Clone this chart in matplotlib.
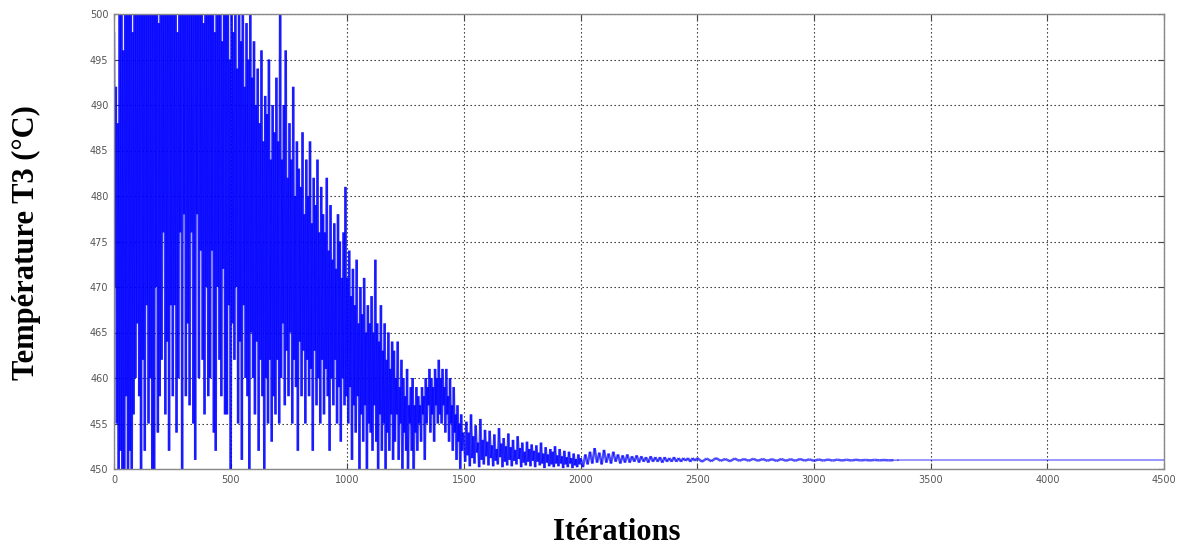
import numpy as np
import matplotlib
matplotlib.use("Agg")
import matplotlib.pyplot as plt
from matplotlib.collections import LineCollection

# --- data -----------------------------------------------------------------
# phase 1: one reading every 4 iterations, 0 .. 1496
p1_start, p1_step = 0, 4
temp_p1 = [
    498, 470, 492, 455, 488, 447, 500, 452, 505, 449, 496, 445, 503, 458, 505, 446, 500, 452, 505, 447, 498, 456, 505, 460, 502,
    466, 505, 458, 500, 448, 505, 462, 503, 452, 505, 468, 501, 455, 505, 460, 500, 450, 505, 446, 503, 470, 505, 454, 499, 458,
    505, 462, 503, 476, 505, 456, 500, 464, 505, 452, 504, 468, 505, 458, 501, 468, 505, 454, 498, 460, 505, 476, 503, 450, 505,
    478, 502, 458, 505, 466, 500, 457, 505, 476, 503, 455, 505, 451, 500, 478, 505, 460, 502, 474, 505, 462, 499, 456, 505, 470,
    503, 458, 505, 460, 500, 474, 505, 454, 498, 452, 505, 470, 502, 462, 505, 458, 497, 472, 504, 456, 500, 456, 505, 468, 495,
    446, 503, 466, 498, 462, 505, 470, 494, 455, 500, 464, 497, 451, 505, 468, 492, 460, 499, 458, 495, 448, 502, 465, 493, 460,
    497, 456, 490, 464, 494, 452, 488, 462, 496, 458, 486, 450, 491, 460, 489, 455, 495, 462, 484, 453, 490, 458, 487, 456, 493,
    462, 486, 455, 505, 460, 484, 466, 490, 457, 496, 463, 482, 458, 488, 465, 484, 455, 492, 462, 480, 459, 486, 452, 483, 464,
    481, 458, 487, 463, 478, 455, 484, 462, 480, 458, 486, 461, 477, 452, 482, 463, 479, 457, 484, 460, 476, 455, 481, 462, 478,
    456, 476, 461, 482, 458, 474, 452, 479, 460, 473, 457, 477, 462, 472, 455, 478, 459, 475, 453, 471, 460, 476, 457, 481, 458,
    471, 455, 474, 459, 469, 451, 472, 457, 468, 454, 473, 458, 466, 450, 470, 456, 467, 453, 471, 457, 465, 449, 468, 455, 466,
    454, 469, 452, 465, 457, 473, 453, 466, 450, 464, 456, 468, 452, 463, 455, 466, 449, 462, 454, 465, 452, 461, 456, 464, 451,
    463, 453, 460, 456, 464, 451, 459, 455, 462, 449, 460, 454, 458, 452, 461, 450, 457, 455, 459, 452, 460, 448, 457, 454, 459,
    452, 458, 455, 457, 453, 459, 456, 458, 451, 460, 455, 459, 457, 461, 454, 460, 456, 459, 453, 461, 457, 460, 455, 462, 456,
    460, 455, 461, 457, 459, 454, 461, 456, 458, 453, 460, 455, 457, 452, 459, 454, 456, 451, 457, 453, 455, 450, 456, 452, 454,
]

# phase 2: one reading every 5 iterations, 1500 .. 1995
p2_start, p2_step = 1500, 5
temp_p2 = [
    453.5, 450.8, 455.2, 451.5, 454.0, 450.3, 456.0, 451.2, 453.6, 450.6, 454.8, 451.8, 452.9, 450.2, 455.5, 451.0, 453.2, 450.5, 454.3, 451.4,
    453.0, 450.4, 454.2, 451.2, 452.6, 450.3, 453.8, 450.9, 452.2, 450.5, 454.5, 451.3, 452.8, 450.2, 453.4, 450.8, 452.5, 450.4, 453.9, 451.0,
    452.4, 450.3, 453.2, 450.9, 452.1, 450.5, 453.6, 451.1, 452.3, 450.2, 452.9, 450.7, 451.9, 450.4, 453.0, 450.8, 452.2, 450.3, 452.7, 450.9,
    452.0, 450.2, 452.6, 450.8, 451.8, 450.4, 452.9, 450.6, 451.7, 450.1, 452.4, 450.7, 451.6, 450.3, 452.2, 450.5, 451.9, 450.2, 452.5, 450.6,
    451.5, 450.3, 452.2, 450.6, 451.4, 450.1, 452.0, 450.5, 451.3, 450.2, 451.9, 450.6, 451.2, 450.1, 451.7, 450.4, 451.1, 450.2, 451.6, 450.5,
]

# phase 3: one reading every 10 iterations, 2000 .. 2490
p3_start, p3_step = 2000, 10
temp_p3 = [
    451.2, 450.2, 451.6, 450.5, 451.9, 450.6, 452.3, 450.7, 451.8, 450.5,
    452.1, 450.7, 451.7, 450.6, 451.9, 450.8, 451.6, 450.6, 451.5, 450.7,
    451.6, 450.7, 451.4, 450.8, 451.5, 450.7, 451.4, 450.8, 451.3, 450.7,
    451.4, 450.8, 451.3, 450.8, 451.3, 450.7, 451.3, 450.8, 451.2, 450.8,
    451.3, 450.8, 451.2, 450.8, 451.2, 450.9, 451.2, 450.8, 451.2, 450.9,
]

# phase 4: one reading every 20 iterations, 2500 .. 3340
p4_start, p4_step = 2500, 20
temp_p4 = [
    451.2, 450.8, 451.15, 450.85, 451.2, 450.9, 451.1, 450.85, 451.15, 450.9,
    451.1, 450.9, 451.12, 450.9, 451.1, 450.9, 451.08, 450.88, 451.1, 450.9,
    451.08, 450.9, 451.1, 450.92, 451.06, 450.9, 451.05, 450.92, 451.04, 450.92,
    451.03, 450.93, 451.02, 450.93, 451.02, 450.94, 451.0, 450.94, 451.0, 450.95,
    450.99, 450.95, 450.97,
]

# converged phase
late_iter = [3360, 4500]
temp_late = [450.96, 450.96]

x_ticks = [0, 500, 1000, 1500, 2000, 2500, 3000, 3500, 4000, 4500]
y_ticks = [450, 455, 460, 465, 470, 475, 480, 485, 490, 495, 500]
x_label = "Itérations"
y_label = "Température T3 (°C)"

# --- build the series --------------------------------------------------------
phases = [(p1_start, p1_step, temp_p1), (p2_start, p2_step, temp_p2),
          (p3_start, p3_step, temp_p3), (p4_start, p4_step, temp_p4)]
iters = np.concatenate([s + np.arange(len(v)) * st for s, st, v in phases])
temps = np.concatenate([np.asarray(v, float) for _, _, v in phases])

fig = plt.figure(figsize=(11.77, 5.48), dpi=100)
ax = fig.add_axes([114 / 1177, 1 - 469 / 548, 1050 / 1177, 455 / 548])

pts = np.column_stack([iters, temps])
segs = np.stack([pts[:-1], pts[1:]], axis=1)
lc = LineCollection(segs, colors=[(0, 0, 1, 0.68)], linewidths=1.8)
ax.add_collection(lc)
ax.plot([iters[-1], late_iter[0]], [temps[-1], temp_late[0]], color=(0, 0, 1), lw=1.2, alpha=0.5)
ax.plot(late_iter, temp_late, color=(0, 0, 1), lw=1.4, alpha=0.4)

ax.set_xlim(0, 4500)
ax.set_ylim(450, 500)
ax.set_xticks(x_ticks)
ax.set_yticks(y_ticks)
ax.tick_params(direction="in", length=4, width=0.8, colors="#444444",
               labelsize=7, labelcolor="#555555", top=True, right=True, pad=4)
ax.grid(True, color="#222222", linestyle=(0, (1.2, 2.4)), linewidth=0.8)
ax.set_axisbelow(True)
for s in ax.spines.values():
    s.set_color("#888888")
    s.set_linewidth(1.0)

fig.text(617 / 1177, 1 - 532 / 548, x_label, ha="center", va="center",
         family="Liberation Serif", weight="bold", fontsize=22)
fig.text(26 / 1177, 1 - 243 / 548, y_label, ha="center", va="center", rotation=90,
         family="Liberation Serif", weight="bold", fontsize=22)

fig.savefig("out.png", dpi=100)
